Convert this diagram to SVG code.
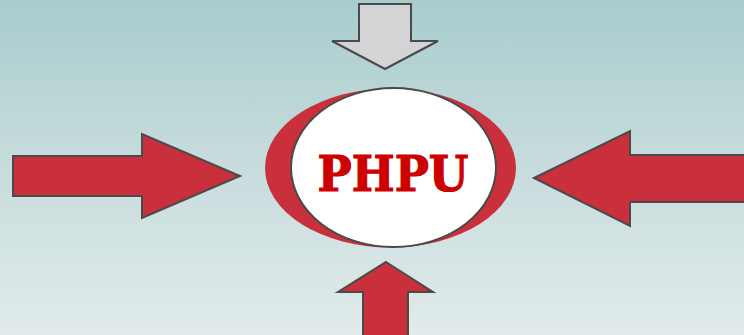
<svg xmlns="http://www.w3.org/2000/svg" width="744" height="335" viewBox="0 0 744 335">
<defs>
<linearGradient id="bg" x1="0" y1="0" x2="0" y2="1">
<stop offset="0" stop-color="#a8cccd"/>
<stop offset="0.5" stop-color="#c8dcdd"/>
<stop offset="1" stop-color="#e1ebeb"/>
</linearGradient>
<style>
.red{fill:#c9303c;stroke:#4a4a4a;stroke-width:2;stroke-linejoin:miter}
.grey{fill:#d4d4d6;stroke:#4a4a4a;stroke-width:2}
.lbl{font-family:"DejaVu Serif","Liberation Serif",serif;font-weight:bold;font-size:48px;fill:#cc0000;stroke:#cc0000;stroke-width:1.2}
</style>
</defs>
<rect width="744" height="335" fill="url(#bg)"/>
<g id="connectors">
<polygon id="arrow-top" class="grey" points="359,4 411,4 411,41 438,41 385,69 332,41 359,41"/>
<polygon id="arrow-bottom" class="red" points="386,262 433,292 408,292 408,336 363,336 363,292 338,292"/>
<polygon id="arrow-left" class="red" points="13,156 142,156 142,134 240,176 142,218 142,196 13,196"/>
<polygon id="arrow-right" class="red" points="534,178 630,131 630,155 746,155 746,202 630,202 630,226"/>
</g>
<g id="node-phpu">
<ellipse cx="390.5" cy="168" rx="125.5" ry="79.5" fill="#c9303c"/>
<ellipse cx="393.5" cy="167.5" rx="102.5" ry="79.5" fill="#ffffff" stroke="#4a4a4a" stroke-width="2"/>
<text class="lbl" x="393" y="191" text-anchor="middle" textLength="151" lengthAdjust="spacingAndGlyphs">PHPU</text>
</g>
</svg>
